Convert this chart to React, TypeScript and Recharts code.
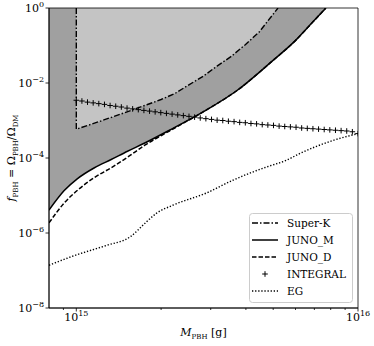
import React from 'react';
import { ComposedChart, Area, Line, XAxis, YAxis, ReferenceArea } from 'recharts';

// Super-K (dash-dot), starts with a vertical drop at 1e15 g
const SUPERK_M = [1e15, 1e15, 1.12e15, 1.26e15, 1.41e15, 1.58e15, 1.78e15, 2.0e15, 2.24e15, 2.51e15, 2.82e15, 3.16e15, 3.55e15, 3.98e15, 4.47e15, 5.2e15];
const SUPERK_F = [1, 5.89e-4, 7.76e-4, 1.05e-3, 1.41e-3, 1.91e-3, 2.63e-3, 3.63e-3, 5.25e-3, 8.91e-3, 1.51e-2, 2.82e-2, 5.13e-2, 0.105, 0.234, 1];

const JUNO_M_M = [8.0e14, 9.06e14, 1.01e15, 1.16e15, 1.33e15, 1.52e15, 1.75e15, 2.14e15, 2.82e15, 3.72e15, 4.9e15, 6.03e15, 6.92e15, 7.69e15];
const JUNO_M_F = [4.07e-6, 1.35e-5, 2.82e-5, 5.5e-5, 9.12e-5, 1.51e-4, 2.51e-4, 5.5e-4, 1.7e-3, 6.31e-3, 3.55e-2, 0.141, 0.427, 1];

const JUNO_D_M = [8.0e14, 9.06e14, 1.01e15, 1.16e15, 1.33e15, 1.52e15, 1.75e15, 2.14e15, 2.82e15, 3.72e15, 4.9e15, 6.03e15, 6.92e15, 7.69e15];
const JUNO_D_F = [1.86e-6, 6.31e-6, 1.38e-5, 3.02e-5, 5.5e-5, 1.05e-4, 2.19e-4, 5.25e-4, 1.7e-3, 6.31e-3, 3.55e-2, 0.141, 0.427, 1];

const INTEGRAL_M = [
  1e15, 1.047e15, 1.096e15, 1.148e15, 1.202e15, 1.259e15, 1.318e15, 1.38e15, 1.445e15, 1.514e15,
  1.585e15, 1.66e15, 1.738e15, 1.82e15, 1.905e15, 1.995e15, 2.089e15, 2.188e15, 2.291e15, 2.399e15,
  2.512e15, 2.63e15, 2.754e15, 2.884e15, 3.02e15, 3.162e15, 3.311e15, 3.467e15, 3.631e15, 3.802e15,
  3.981e15, 4.169e15, 4.365e15, 4.571e15, 4.786e15, 5.012e15, 5.248e15, 5.495e15, 5.754e15, 6.026e15,
  6.31e15, 6.607e15, 6.918e15, 7.244e15, 7.586e15, 7.943e15, 8.318e15, 8.71e15, 9.12e15, 9.55e15, 1e16,
];
const INTEGRAL_F = [
  3.47e-3, 3.31e-3, 3.09e-3, 2.95e-3, 2.82e-3, 2.69e-3, 2.51e-3, 2.4e-3, 2.29e-3, 2.14e-3,
  2.04e-3, 1.95e-3, 1.86e-3, 1.78e-3, 1.7e-3, 1.62e-3, 1.55e-3, 1.48e-3, 1.41e-3, 1.35e-3,
  1.29e-3, 1.23e-3, 1.17e-3, 1.12e-3, 1.07e-3, 1.02e-3, 1.0e-3, 9.55e-4, 9.33e-4, 8.91e-4,
  8.71e-4, 8.32e-4, 8.13e-4, 7.76e-4, 7.59e-4, 7.41e-4, 7.08e-4, 6.92e-4, 6.76e-4, 6.61e-4,
  6.31e-4, 6.17e-4, 6.03e-4, 5.89e-4, 5.75e-4, 5.62e-4, 5.5e-4, 5.37e-4, 5.25e-4, 5.01e-4, 4.47e-4,
];

const EG_M = [8.0e14, 9.7e14, 1.28e15, 1.55e15, 1.77e15, 1.92e15, 2.2e15, 2.9e15, 3.6e15, 4.73e15, 5.57e15, 6.22e15, 8.17e15, 1e16];
const EG_F = [1.38e-7, 2.4e-7, 4.68e-7, 7.8e-7, 1.95e-6, 3.31e-6, 5.5e-6, 1.17e-5, 2.57e-5, 5.75e-5, 8.71e-5, 1.32e-4, 2.95e-4, 4.47e-4];

const X_TICKS = [9e14, 1e15, 2e15, 3e15, 4e15, 5e15, 6e15, 7e15, 8e15, 9e15, 1e16];
const X_MAJOR = [1e15, 1e16];
const Y_TICKS = [1e-8, 1e-6, 1e-4, 1e-2, 1];

const zip = (ms: number[], fs: number[]) => ms.map((m, i) => ({ m, f: fs[i] }));

const superK = zip(SUPERK_M, SUPERK_F);
const junoM = zip(JUNO_M_M, JUNO_M_F);
const junoD = zip(JUNO_D_M, JUNO_D_F);
const integral = zip(INTEGRAL_M, INTEGRAL_F);
const eg = zip(EG_M, EG_F);

const FONT = 'DejaVu Serif, serif';
const DARK = '#a0a0a0';
const LIGHT = '#c4c4c4';

const expText = (v: number) => {
  const e = Math.round(Math.log10(v));
  return e < 0 ? '\u2212' + Math.abs(e) : String(e);
};

const XTick = (props: any) => {
  const { x, y, payload } = props;
  const major = X_MAJOR.some((t) => Math.abs(t - payload.value) / t < 1e-6);
  return (
    <g>
      <line x1={x} x2={x} y1={y} y2={y + (major ? 3.5 : 2)} stroke="#000" strokeWidth={0.8} />
      {major && (
        <text x={x} y={y + 13} textAnchor="middle" fontSize={11} style={{ fontFamily: FONT }} fill="#000">
          10<tspan dy={-5} fontSize={8}>{expText(payload.value)}</tspan>
        </text>
      )}
    </g>
  );
};

const YTick = (props: any) => {
  const { x, y, payload } = props;
  const exp = expText(payload.value);
  return (
    <g>
      <line x1={x - 3.5} x2={x} y1={y} y2={y} stroke="#000" strokeWidth={0.8} />
      <text x={x - 5} y={y + 4} textAnchor="end" fontSize={11} style={{ fontFamily: FONT }} fill="#000">
        10<tspan dy={-5} fontSize={8}>{exp}</tspan>
      </text>
    </g>
  );
};

const Plus = (props: any) => {
  const { cx, cy, index } = props;
  if (cx == null || cy == null) return <g key={index} />;
  return (
    <path
      key={index}
      d={`M${cx - 2.8},${cy}H${cx + 2.8}M${cx},${cy - 2.8}V${cy + 2.8}`}
      stroke="#000"
      strokeWidth={1}
    />
  );
};

const LEGEND = [
  { name: 'Super-K', dash: '6 2 1.5 2' },
  { name: 'JUNO_M', dash: undefined },
  { name: 'JUNO_D', dash: '4.5 2' },
  { name: 'INTEGRAL', dash: 'plus' },
  { name: 'EG', dash: '1.3 1.8' },
];

export default function App() {
  return (
    <div style={{ position: 'absolute', left: 0, top: 0, width: 374, height: 346, background: '#fff', fontFamily: FONT }}>
      <ComposedChart width={374} height={346} margin={{ top: 8, right: 16, bottom: 0, left: 0 }}>
        <XAxis
          dataKey="m"
          type="number"
          scale="log"
          domain={[8e14, 1e16]}
          allowDataOverflow
          ticks={X_TICKS}
          interval={0}
          tickSize={0}
          tickMargin={0}
          tickLine={false}
          tick={<XTick />}
          height={38}
          axisLine={{ stroke: '#000', strokeWidth: 0.8 }}
        />
        <YAxis
          dataKey="f"
          type="number"
          scale="log"
          domain={[1e-8, 1]}
          allowDataOverflow
          ticks={Y_TICKS}
          interval={0}
          tickSize={0}
          tickMargin={0}
          tickLine={false}
          tick={<YTick />}
          width={49}
          axisLine={{ stroke: '#000', strokeWidth: 0.8 }}
        />
        <Area data={junoM} dataKey="f" type="monotoneX" baseValue="dataMax" fill={DARK} fillOpacity={1} stroke="none" isAnimationActive={false} />
        <Area data={superK} dataKey="f" type="linear" baseValue="dataMax" fill={LIGHT} fillOpacity={1} stroke="none" isAnimationActive={false} />
        <Line data={superK} dataKey="f" type="linear" stroke="#000" strokeWidth={1.4} strokeDasharray="6 2 1.5 2" dot={false} isAnimationActive={false} />
        <Line data={junoM} dataKey="f" type="monotoneX" stroke="#000" strokeWidth={1.5} dot={false} isAnimationActive={false} />
        <Line data={junoD} dataKey="f" type="monotoneX" stroke="#000" strokeWidth={1.5} strokeDasharray="4.5 2" dot={false} isAnimationActive={false} />
        <Line data={integral} dataKey="f" type="linear" stroke="none" dot={<Plus />} isAnimationActive={false} />
        <Line data={eg} dataKey="f" type="monotoneX" stroke="#000" strokeWidth={1.4} strokeDasharray="1.3 1.8" dot={false} isAnimationActive={false} />
        <ReferenceArea x1={8e14} x2={1e16} y1={1e-8} y2={1} fill="none" fillOpacity={0} stroke="#000" strokeWidth={0.8} />
      </ComposedChart>
      <svg width={374} height={346} style={{ position: 'absolute', left: 0, top: 0, pointerEvents: 'none', fontFamily: FONT }}>
        <text transform="translate(15,158) rotate(-90)" textAnchor="middle" fontSize={11} fill="#000">
          <tspan fontStyle="italic">f</tspan>
          <tspan fontSize={7} dy={3}>PBH</tspan>
          <tspan dy={-3}> = Ω</tspan>
          <tspan fontSize={7} dy={3}>PBH</tspan>
          <tspan dy={-3}>/Ω</tspan>
          <tspan fontSize={7} dy={3}>DM</tspan>
        </text>
        <text x={203.5} y={336} textAnchor="middle" fontSize={11} fill="#000">
          <tspan fontStyle="italic">M</tspan>
          <tspan fontSize={7} dy={3}>PBH</tspan>
          <tspan dy={-3}> [g]</tspan>
        </text>
        <g transform="translate(249,213)">
          <rect x={0.5} y={0.5} width={103} height={89} rx={3} fill="#fff" fillOpacity={0.85} stroke="#ccc" strokeWidth={1} />
          {LEGEND.map((l, i) => {
            const cy = 10 + i * 17;
            return (
              <g key={l.name}>
                {l.dash === 'plus' ? (
                  <path d={`M${16 - 2.8},${cy}H${16 + 2.8}M16,${cy - 2.8}V${cy + 2.8}`} stroke="#000" strokeWidth={1} />
                ) : (
                  <line x1={3} x2={29} y1={cy} y2={cy} stroke="#000" strokeWidth={1.5} strokeDasharray={l.dash} />
                )}
                <text x={38} y={cy + 4} fontSize={10.5} fill="#000">
                  {l.name}
                </text>
              </g>
            );
          })}
        </g>
      </svg>
    </div>
  );
}
